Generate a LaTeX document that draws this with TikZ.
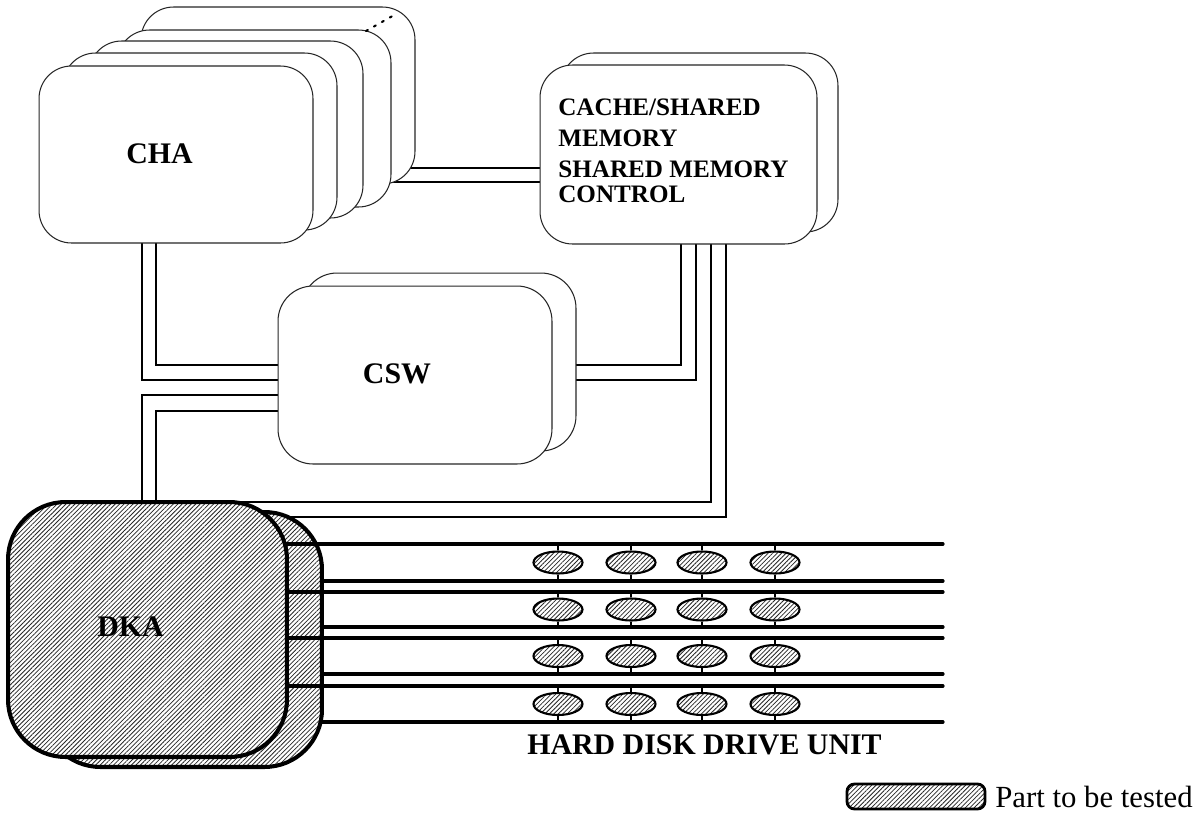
\documentclass[tikz,border=0pt]{standalone}
\usepackage{fontspec}
\setmainfont{Liberation Serif}
\usetikzlibrary{backgrounds,patterns.meta,shapes.geometric}
\begin{document}
\begin{tikzpicture}[x=0.02cm,y=-0.02cm,
  box/.style={draw=black!85, line width=0.6pt, fill=white, inner sep=0pt,
    rounded corners=0.65cm, minimum width=5.48cm, minimum height=3.54cm},
  hatch/.style={preaction={fill=white}, pattern={Lines[angle=45,distance=1.8pt,line width=0.45pt]}, pattern color=black!85},
  dkabox/.style={draw=black, line width=2.3pt, hatch, inner sep=0pt,
    rounded corners=1.15cm, minimum width=5.58cm, minimum height=5.1cm},
  disk/.style={ellipse, draw=black, line width=1.2pt, hatch, inner sep=0pt,
    minimum width=0.98cm, minimum height=0.44cm},
  bus/.style={line width=0.7pt},
  rail/.style={line width=1.8pt, line cap=round},
  stub/.style={line width=0.6pt},
  big/.style={font=\fontsize{17}{20}\selectfont\bfseries, inner sep=0pt},
  small/.style={font=\fontsize{14.3}{16}\selectfont\bfseries, inner sep=0pt, anchor=base west},
  ]
\useasboundingbox (0,0) rectangle (1201,816);

% CHA stack
\node[box] (cha5) at (278,95.5) {};
\node[box] (cha4) at (254,118.5) {};
\node[box] (cha3) at (226,129.5) {};
\node[box] (cha2) at (200,141.5) {};
\node[box] (cha1) at (176,154.5) {};
\node[big] (chat) at (159.5,154) {CHA};
\draw[line width=1.2pt, dash pattern=on 1.2pt off 4pt, line cap=round] (366,31) -- (396,14);

% Cache stack
\node[box, minimum width=5.54cm, minimum height=3.58cm] (cache2) at (699.5,142.5) {};
\node[box, minimum width=5.54cm, minimum height=3.58cm] (cache1) at (678.5,154.5) {};
\node[small] (ct1) at (558,115) {CACHE/SHARED};
\node[small] (ct2) at (558,146) {MEMORY};
\node[small] (ct3) at (558,177) {SHARED MEMORY};
\node[small] (ct4) at (558,202) {CONTROL};

% CSW stack
\node[box, rounded corners=0.7cm, minimum height=3.56cm] (csw2) at (439,362) {};
\node[box, rounded corners=0.7cm, minimum height=3.56cm] (csw1) at (415,375) {};
\node[big] (cswt) at (397,373.5) {CSW};

% DKA
\node[dkabox] (dka2) at (182.5,639.5) {};
\foreach \y in {581,627,674,722}
  \draw[rail] (dka2.east |- 0,\y) -- (943,\y) coordinate (rb\y);
\foreach \y in {544,592,638,686}
  \draw[rail] (dka2.center |- 0,\y) -- (943,\y) coordinate (rt\y);
\node[dkabox] (dka1) at (147.5,629.5) {};
\node[big] (dkat) at (130.5,627) {DKA};

% disks
\foreach \r/\t/\b in {1/544/581,2/592/627,3/638/674,4/686/722}{
  \foreach \c/\x in {1/558,2/631,3/702,4/775}{
    \node[disk] (d\r\c) at (\x,{(\t+\b)/2}) {};
    \draw[stub] (d\r\c.north) -- (d\r\c.north |- rt\t);
    \draw[stub] (d\r\c.south) -- (d\r\c.south |- rb\b);
  }
}
\node[big] (hddt) at (704.5,745) {HARD DISK DRIVE UNIT};

% legend
\node[draw=black, line width=1.6pt, hatch, rounded corners=0.15cm, inner sep=0pt,
  minimum width=2.76cm, minimum height=0.5cm] (leg) at (916,796.5) {};
\node[font=\fontsize{17.5}{20}\selectfont, inner sep=0pt, anchor=base west] (legt) at (995,807) {Part to be tested};

% buses
\begin{scope}[on background layer]
  \draw[bus] (cha5.center |- 0,168) -- (cache1.center |- 0,168);
  \draw[bus] (cha5.center |- 0,182) -- (cache1.center |- 0,182);
  \draw[bus] (cha1.center -| 142,0) |- (csw1.center |- 0,380);
  \draw[bus] (cha1.center -| 156,0) |- (csw1.center |- 0,365);
  \draw[bus] (dka1.center -| 142,0) |- (csw1.center |- 0,395);
  \draw[bus] (dka1.center -| 156,0) |- (csw1.center |- 0,411);
  \draw[bus] (cache1.center -| 681,0) |- (csw1.center |- 0,365);
  \draw[bus] (cache1.center -| 696,0) |- (csw1.center |- 0,380);
  \draw[bus] (cache1.center -| 711,0) |- (dka1.center |- 0,502);
  \draw[bus] (cache1.center -| 726,0) |- (dka1.center |- 0,517);
\end{scope}
\end{tikzpicture}
\end{document}
